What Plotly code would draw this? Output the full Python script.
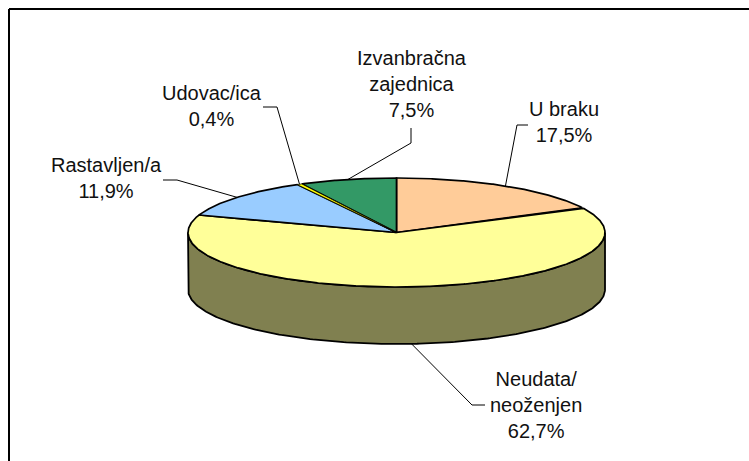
import numpy as np
import plotly.graph_objects as go

# ---- data ----
categories = ["U braku", "Neudata/<br>neoženjen", "Rastavljen/a", "Udovac/ica", "Izvanbračna<br>zajednica"]
values = [17.5, 62.7, 11.9, 0.4, 7.5]
value_labels = ["17,5%", "62,7%", "11,9%", "0,4%", "7,5%"]

# ---- styling / layout (pixels of the 749x461 page) ----
top_colors = ["#FFCC99", "#FFFF99", "#99CCFF", "#FFFF00", "#339966"]
wall_colors = ["#806650", "#808050", "#506680", "#808000", "#1A4D33"]
slice_widths = [1.7, 1.7, 1.7, 0.7, 1.7]
draw_order = [0, 1, 2, 4, 3]
CX, CY, RX, RY, DEPTH = 396.5, 232.5, 208.5, 54.5, 57.0
W, H = 749, 461
label_centers = [(564, 122), (536, 405), (106, 178), (212, 105.5), (412, 84)]
leader_knees = [
    [(517, 125), (528, 125)],
    [(472, 405), (485, 405)],
    [(177, 180), (163, 180)],
    [(277, 107), (263, 107)],
    [(411, 143), (411, 128)],
]


def pt(deg, dz=0.0):
    t = np.radians(deg)
    return CX + RX * np.sin(t), CY - RY * np.cos(t) + dz


fig = go.Figure()
OUT = dict(color="black", width=1.8)
edges = np.concatenate([[0], np.cumsum(values)]) / sum(values) * 360.0

# side wall: only the front half of the disc (90 to 270 deg) is visible
for i in range(len(values)):
    a, b = max(edges[i], 90.0), min(edges[i + 1], 270.0)
    if b <= a:
        continue
    th = np.linspace(a, b, 240)
    xt, yt = pt(th)
    xb, yb = pt(th[::-1], DEPTH)
    fig.add_trace(go.Scatter(
        x=np.r_[xt, xb, xt[0]], y=np.r_[yt, yb, yt[0]], mode="lines",
        fill="toself", fillcolor=wall_colors[i], line=OUT, hoverinfo="skip"))

# top face (the very thin slice goes last with a fine outline, so its colour shows)
for i in draw_order:
    th = np.linspace(edges[i], edges[i + 1], max(int(edges[i + 1] - edges[i]) * 3, 4))
    xt, yt = pt(th)
    fig.add_trace(go.Scatter(
        x=np.r_[CX, xt, CX], y=np.r_[CY, yt, CY], mode="lines",
        fill="toself", fillcolor=top_colors[i],
        line=dict(color="black", width=slice_widths[i]), hoverinfo="skip"))

# leader lines and labels
for i in range(len(values)):
    mid = (edges[i] + edges[i + 1]) / 2
    front = 90 < mid < 270
    x0, y0 = pt(mid, DEPTH if front else 0.0)
    kx, ky = zip(*leader_knees[i])
    fig.add_trace(go.Scatter(
        x=[x0, *kx], y=[y0, *ky], mode="lines",
        line=dict(color="black", width=1), hoverinfo="skip"))
    lx, ly = label_centers[i]
    fig.add_annotation(
        x=lx, y=ly, xref="x", yref="y", xanchor="center", yanchor="middle",
        text=f"{categories[i]}<br>{value_labels[i]}", showarrow=False, align="center",
        font=dict(family="Liberation Sans, Arial, sans-serif", size=20, color="#111111"))

# chart frame: only its top and left edges fall inside the picture
frame = dict(color="black", width=2)
fig.add_shape(type="line", x0=9, x1=W, y0=9, y1=9, xref="x", yref="y", line=frame)
fig.add_shape(type="line", x0=9, x1=9, y0=9, y1=H, xref="x", yref="y", line=frame)

fig.update_layout(
    width=W, height=H, margin=dict(l=0, r=0, t=0, b=0),
    paper_bgcolor="white", plot_bgcolor="white", showlegend=False,
    xaxis=dict(range=[0, W], visible=False, fixedrange=True),
    yaxis=dict(range=[H, 0], visible=False, fixedrange=True),
)
fig.write_html("out.html", post_script="document.body.style.margin='0';document.documentElement.style.overflow='hidden';",
               config={"displayModeBar": False})
